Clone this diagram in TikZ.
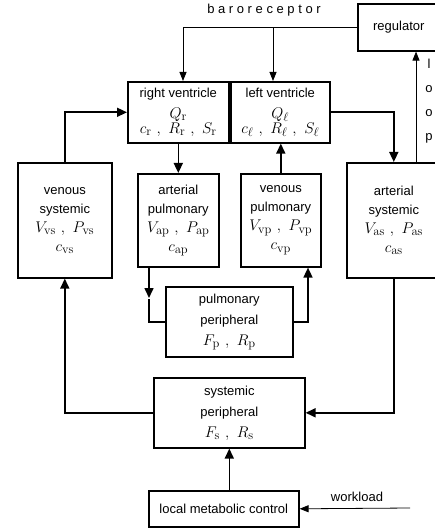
\RequirePackage{fix-cm}
\documentclass[tikz,border=0pt]{standalone}
\usepackage[no-math]{fontspec}
\setmainfont{Liberation Sans}
\DeclareMathSizes{13}{15.5}{12.5}{10}
\newcommand{\sepc}{\hspace{5pt},\hspace{5pt}}
\usetikzlibrary{arrows.meta}
\begin{document}
\begin{tikzpicture}[x=1pt,y=-1pt,
  box/.style={draw,line width=1.6pt,anchor=north west,inner sep=0pt,align=center,
    font=\fontsize{13}{19}\selectfont},
  lbl/.style={inner sep=0pt,font=\fontsize{13}{19}\selectfont},
  flow/.style={line width=1.6pt,-{Triangle[length=10pt,width=9pt]}},
  thickline/.style={line width=1.6pt},
  ctrl/.style={line width=0.8pt,-{Triangle[length=9pt,width=7pt]}}]
\useasboundingbox (0,0) rectangle (434,529);

% boxes
\node[box,minimum width=82pt,minimum height=47pt] (reg) at (357,3) {regulator};
\node[box,minimum width=101pt,minimum height=61pt] (rv) at (127,81)
  {right ventricle\\[2pt]$Q_{\mathrm{r}}$\\[-4pt]$c_{\mathrm{r}}\sepc R_{\mathrm{r}}\sepc S_{\mathrm{r}}$};
\node[box,minimum width=99pt,minimum height=61pt] (lv) at (230,81)
  {left ventricle\\[2pt]$Q_{\ell}$\\[-4pt]$c_{\ell}\sepc R_{\ell}\sepc S_{\ell}$};
\node[box,minimum width=94pt,minimum height=115pt] (vs) at (17,162)
  {venous\\systemic\\$V_{\mathrm{vs}}\sepc P_{\mathrm{vs}}$\\$c_{\mathrm{vs}}$};
\node[box,minimum width=81pt,minimum height=93pt] (ap) at (137,173)
  {arterial\\pulmonary\\$V_{\mathrm{ap}}\sepc P_{\mathrm{ap}}$\\$c_{\mathrm{ap}}$};
\node[box,minimum width=80pt,minimum height=93pt] (vp) at (240,173)
  {venous\\pulmonary\\$V_{\mathrm{vp}}\sepc P_{\mathrm{vp}}$\\$c_{\mathrm{vp}}$};
\node[box,minimum width=94pt,minimum height=115pt] (as) at (346,162)
  {arterial\\systemic\\$V_{\mathrm{as}}\sepc P_{\mathrm{as}}$\\$c_{\mathrm{as}}$};
\node[box,minimum width=127pt,minimum height=70pt,font=\fontsize{13}{21}\selectfont] (pp) at (165,286)
  {pulmonary\\peripheral\\$F_{\mathrm{p}}\sepc R_{\mathrm{p}}$};
\node[box,minimum width=151pt,minimum height=70pt,font=\fontsize{13}{21}\selectfont] (sp) at (153,377)
  {systemic\\peripheral\\$F_{\mathrm{s}}\sepc R_{\mathrm{s}}$};
\node[box,minimum width=150pt,minimum height=36pt] (lmc) at (148,490) {local metabolic control};

% labels
\node[lbl] (baro) at (264,10) {b a r o r e c e p t o r};
\node[lbl] (wlt) at (357,497) {workload};
\node[lbl,align=center,font=\fontsize{13}{24}\selectfont] (loop) at (429,101) {l\\o\\o\\p};

% helper coordinates
\coordinate (b1) at (183,0);
\coordinate (b2) at (273,0);
\coordinate (lp) at (416,0);
\coordinate (apm) at (149,298);
\coordinate (vpx) at (308,0);
\coordinate (wl) at (410,508);

% control lines
\draw[ctrl] (reg.west) -| (b1 |- rv.north);
\draw[ctrl] (b2 |- reg.west) -- (b2 |- lv.north);
\draw[ctrl] (lp |- as.north) -- (lp |- reg.south);
\draw[ctrl] (wl) -- (lmc.east);

% flow lines
\draw[flow] (vs.north) |- (rv.west);
\draw[flow] (rv.south) -- (ap.north);
\draw[flow] (apm |- ap.south) -- (apm);
\draw[thickline] ([yshift=-1pt]apm) |- (pp.west);
\draw[flow] (pp.east) -| (vpx |- vp.south);
\draw[flow] (vp.north) -- (vp.north |- lv.south);
\draw[flow] (lv.east) -| (as.north);
\draw[flow] (as.south) |- (sp.east);
\draw[flow] (sp.west) -| (vs.south);
\draw[flow] (sp.south |- lmc.north) -- (sp.south);
\end{tikzpicture}
\end{document}
